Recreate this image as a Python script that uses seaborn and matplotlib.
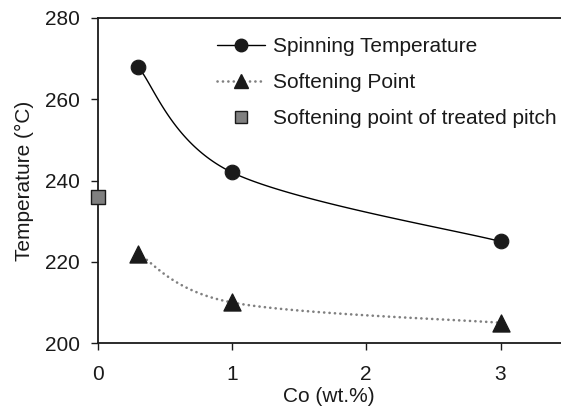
import numpy as np
import pandas as pd
import seaborn as sns
import matplotlib
matplotlib.use("Agg")
import matplotlib.pyplot as plt
from matplotlib.lines import Line2D

# Data
co_wt = [0.3, 1, 3]
spinning_temp = [268, 242, 225]
softening_point = [222, 210, 205]
treated_x = [0]
treated_sp = [236]
x_ticks = [0, 1, 2, 3]
y_ticks = [200, 220, 240, 260, 280]

sns.set_theme(style="white")
plt.rcParams['font.family'] = ['Liberation Sans', 'DejaVu Sans']

FS = 15
DOTS = (0, (0.05, 2.0))


def smooth(xs, ys, n=60):
    # Excel-like smoothed line: cubic Bezier segments with Catmull-Rom control points
    P = np.column_stack([xs, ys]).astype(float)
    pts = []
    for i in range(len(P) - 1):
        p0 = P[i - 1] if i > 0 else P[i]
        p1 = P[i]
        p2 = P[i + 1]
        p3 = P[i + 2] if i + 2 < len(P) else P[i + 1]
        c1 = p1 + (p2 - p0) / 6.0
        c2 = p2 - (p3 - p1) / 6.0
        t = np.linspace(0, 1, n)[:, None]
        seg = ((1 - t) ** 3) * p1 + 3 * ((1 - t) ** 2) * t * c1 + 3 * (1 - t) * t ** 2 * c2 + t ** 3 * p2
        pts.append(seg if i == 0 else seg[1:])
    arr = np.vstack(pts)
    return pd.DataFrame({"x": arr[:, 0], "y": arr[:, 1]})


fig = plt.figure(figsize=(5.61, 4.07), dpi=100)
ax = fig.add_axes([0.174, 0.157, 0.826, 0.799])

sp_curve = smooth(co_wt, spinning_temp)
so_curve = smooth(co_wt, softening_point)

sns.lineplot(data=sp_curve, x="x", y="y", sort=False, color="black", lw=1.0, ax=ax, estimator=None)
sns.lineplot(data=so_curve, x="x", y="y", sort=False, color="#808080", lw=1.9, ax=ax, estimator=None,
             linestyle=DOTS)
ax.lines[-1].set_dash_capstyle("round")

df_sp = pd.DataFrame({"x": co_wt, "y": spinning_temp})
df_so = pd.DataFrame({"x": co_wt, "y": softening_point})
df_tr = pd.DataFrame({"x": treated_x, "y": treated_sp})
sns.scatterplot(data=df_sp, x="x", y="y", marker="o", s=110, color="#1a1a1a", edgecolor="#1a1a1a", ax=ax, zorder=5)
sns.scatterplot(data=df_so, x="x", y="y", marker="^", s=150, color="#1a1a1a", edgecolor="#1a1a1a", ax=ax, zorder=5)
sns.scatterplot(data=df_tr, x="x", y="y", marker="s", s=90, color="#808080", edgecolor="#1a1a1a",
                linewidth=1.0, ax=ax, zorder=6, clip_on=False)

ax.set_xlim(0, 3.45)
ax.set_ylim(200, 280)
ax.set_xticks(x_ticks)
ax.set_yticks(y_ticks)
ax.tick_params(axis="both", which="major", labelsize=FS, colors="#1a1a1a", direction="out",
               length=5, width=1.0, bottom=True, left=True, top=False, right=False)
ax.tick_params(axis="x", pad=10.5)
ax.tick_params(axis="y", pad=8)
ax.set_xlabel("Co (wt.%)", fontsize=FS, color="#1a1a1a", labelpad=2.5)
ax.set_ylabel("Temperature (°C)", fontsize=FS, color="#1a1a1a", labelpad=7.5)

for side in ["left", "bottom", "top"]:
    ax.spines[side].set_visible(True)
    ax.spines[side].set_color("#1a1a1a")
    ax.spines[side].set_linewidth(1.3)
ax.spines["right"].set_visible(False)

handles = [
    Line2D([], [], color="black", lw=1.0, marker="o", markersize=9, markerfacecolor="#1a1a1a",
           markeredgecolor="#1a1a1a"),
    Line2D([], [], color="#808080", lw=1.9, linestyle=DOTS, dash_capstyle="round",
           marker="^", markersize=10, markerfacecolor="#1a1a1a", markeredgecolor="#1a1a1a"),
    Line2D([], [], color="none", lw=0, marker="s", markersize=8.5, markerfacecolor="#808080",
           markeredgecolor="#1a1a1a"),
]
labels = ["Spinning Temperature", "Softening Point", "Softening point of treated pitch"]
leg = ax.legend(handles, labels, loc="upper left", bbox_to_anchor=(0.2575, 0.941), frameon=False,
                fontsize=FS, handlelength=2.3, handletextpad=0.4, labelspacing=0.82,
                borderaxespad=0, borderpad=0)
for t in leg.get_texts():
    t.set_color("#1a1a1a")

fig.savefig("out.png", dpi=100)
